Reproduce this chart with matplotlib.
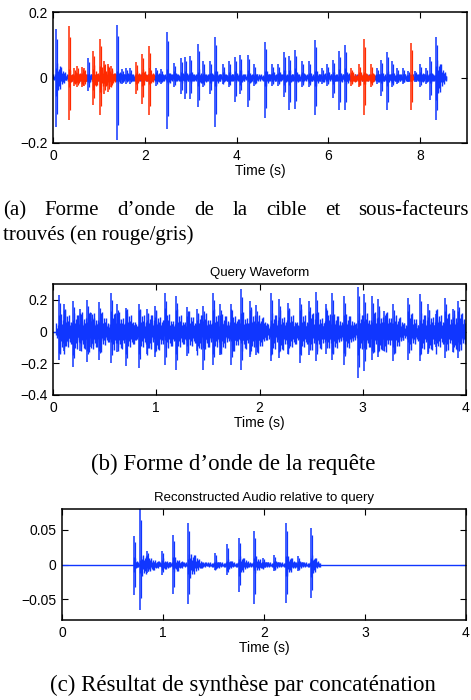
import matplotlib
matplotlib.use("Agg")
import matplotlib.pyplot as plt
import numpy as np

# ---------------- data ----------------
# Panel (a): target waveform, events: time, top, bottom, tail length, tail amplitude
a_times = [0.07, 0.35, 0.45, 0.53, 0.63, 0.68, 0.77, 0.87, 1.02, 1.12, 1.20, 1.27,
           1.40, 1.50, 1.58, 1.68, 1.81, 1.93, 2.09, 2.12, 2.24, 2.35, 2.48, 2.64,
           2.78, 2.88, 2.98, 3.15, 3.27, 3.42, 3.54, 3.71, 3.83, 3.96, 4.07, 4.24,
           4.37, 4.62, 4.78, 4.90, 5.03, 5.15, 5.28, 5.42, 5.58, 5.70, 5.85, 5.98,
           6.11, 6.24, 6.36, 6.50, 6.66, 6.78, 6.93, 7.05, 7.14, 7.27, 7.38, 7.50,
           7.62, 7.74, 7.81, 7.88, 8.00, 8.12, 8.22, 8.35]
a_tops = [0.147, 0.156, 0.030, 0.035, 0.032, 0.030, 0.060, 0.082, 0.119, 0.050, 0.040, 0.035,
          0.159, 0.025, 0.030, 0.030, 0.046, 0.073, 0.095, 0.030, 0.030, 0.025, 0.140, 0.045,
          0.060, 0.062, 0.066, 0.103, 0.050, 0.050, 0.125, 0.040, 0.050, 0.063, 0.070, 0.070,
          0.040, 0.108, 0.040, 0.040, 0.077, 0.067, 0.083, 0.050, 0.050, 0.115, 0.030, 0.040,
          0.054, 0.080, 0.098, 0.030, 0.040, 0.118, 0.040, 0.030, 0.054, 0.078, 0.050, 0.030,
          0.030, 0.020, 0.105, 0.020, 0.040, 0.030, 0.064, 0.123]
a_bottoms = [-0.150, -0.131, -0.025, -0.030, -0.030, -0.025, -0.040, -0.085, -0.116, -0.050, -0.045, -0.030,
             -0.192, -0.020, -0.020, -0.020, -0.050, -0.080, -0.116, -0.020, -0.025, -0.020, -0.156, -0.030,
             -0.050, -0.065, -0.065, -0.090, -0.030, -0.050, -0.150, -0.020, -0.030, -0.075, -0.050, -0.090,
             -0.025, -0.125, -0.025, -0.025, -0.060, -0.100, -0.097, -0.030, -0.030, -0.116, -0.020, -0.025,
             -0.062, -0.100, -0.100, -0.025, -0.030, -0.113, -0.030, -0.020, -0.055, -0.100, -0.030, -0.020,
             -0.020, -0.015, -0.100, -0.015, -0.030, -0.020, -0.070, -0.131]
a_tail_len = [0.22, 0.06, 0.08, 0.08, 0.06, 0.06, 0.07, 0.12, 0.15, 0.10, 0.08, 0.10,
              0.10, 0.05, 0.06, 0.06, 0.08, 0.10, 0.03, 0.08, 0.08, 0.06, 0.08, 0.08,
              0.08, 0.08, 0.08, 0.10, 0.08, 0.08, 0.10, 0.08, 0.08, 0.08, 0.08, 0.08,
              0.08, 0.10, 0.08, 0.08, 0.08, 0.08, 0.08, 0.08, 0.08, 0.10, 0.08, 0.08,
              0.08, 0.08, 0.10, 0.10, 0.08, 0.08, 0.06, 0.06, 0.08, 0.08, 0.08, 0.08,
              0.08, 0.04, 0.02, 0.08, 0.08, 0.08, 0.08, 0.21]
a_tail_amp = [0.055, 0.030, 0.022, 0.022, 0.022, 0.022, 0.020, 0.045, 0.050, 0.040, 0.035, 0.030,
              0.025, 0.015, 0.015, 0.015, 0.028, 0.038, 0.030, 0.025, 0.020, 0.015, 0.030, 0.020,
              0.020, 0.020, 0.020, 0.030, 0.020, 0.020, 0.030, 0.020, 0.020, 0.020, 0.025, 0.025,
              0.020, 0.030, 0.020, 0.020, 0.025, 0.025, 0.030, 0.020, 0.020, 0.030, 0.015, 0.020,
              0.020, 0.025, 0.030, 0.022, 0.025, 0.022, 0.022, 0.015, 0.020, 0.025, 0.020, 0.015,
              0.015, 0.010, 0.015, 0.015, 0.020, 0.015, 0.020, 0.070]
a_red_start = [0.33, 0.85, 1.78, 6.47, 7.79]
a_red_end = [0.75, 1.37, 2.12, 7.00, 7.84]
a_band = 0.012
a_end = 8.56

# Panel (b): query waveform
b_times = [0.06, 0.11, 0.19, 0.26, 0.33, 0.37, 0.45, 0.56, 0.62, 0.71, 0.83, 0.91,
           0.99, 1.08, 1.19, 1.30, 1.39, 1.45, 1.55, 1.62, 1.72, 1.82, 1.91, 1.97,
           2.11, 2.19, 2.28, 2.39, 2.48, 2.55, 2.64, 2.70, 2.82, 2.95, 3.01, 3.09,
           3.15, 3.21, 3.29, 3.44, 3.55, 3.63, 3.71, 3.80, 3.87, 3.92]
b_tops = [0.229, 0.171, 0.192, 0.140, 0.199, 0.118, 0.186, 0.246, 0.171, 0.146, 0.171, 0.140,
          0.160, 0.241, 0.224, 0.153, 0.140, 0.160, 0.246, 0.171, 0.171, 0.270, 0.192, 0.165,
          0.245, 0.203, 0.182, 0.214, 0.192, 0.250, 0.171, 0.245, 0.224, 0.284, 0.235, 0.224,
          0.203, 0.129, 0.171, 0.214, 0.239, 0.171, 0.108, 0.214, 0.140, 0.192]
b_bottoms = [-0.178, -0.120, -0.224, -0.120, -0.189, -0.100, -0.178, -0.200, -0.130, -0.220, -0.230, -0.140,
             -0.160, -0.210, -0.240, -0.157, -0.120, -0.240, -0.210, -0.150, -0.210, -0.240, -0.160, -0.150,
             -0.188, -0.167, -0.140, -0.198, -0.150, -0.188, -0.140, -0.177, -0.209, -0.294, -0.251, -0.180,
             -0.160, -0.120, -0.188, -0.177, -0.188, -0.140, -0.100, -0.167, -0.130, -0.167]
b_tail_len = 0.11
b_tail_amp = 0.15
b_band = 0.055
b_start, b_end = 0.03, 3.99

# Panel (c): reconstructed audio
c_times = [0.716, 0.772, 0.84, 0.99, 1.10, 1.25, 1.51, 1.63, 1.755, 1.90, 1.99, 2.10, 2.22, 2.34, 2.47]
c_tops = [0.041, 0.080, 0.020, 0.020, 0.043, 0.060, 0.017, 0.029, 0.038, 0.048, 0.010, 0.014, 0.060, 0.012, 0.053]
c_bottoms = [-0.044, -0.065, -0.012, -0.015, -0.043, -0.057, -0.008, -0.015, -0.040, -0.057, -0.005, -0.010, -0.056, -0.010, -0.049]
c_tail_len = [0.04, 0.20, 0.05, 0.08, 0.10, 0.15, 0.05, 0.06, 0.10, 0.10, 0.05, 0.05, 0.10, 0.05, 0.08]
c_tail_amp = [0.012, 0.018, 0.010, 0.010, 0.014, 0.022, 0.008, 0.010, 0.016, 0.014, 0.006, 0.008, 0.018, 0.008, 0.018]
c_band = 0.004
c_start, c_end = 0.71, 2.55

# ---------------- style ----------------
BLUE = "#1036ff"
RED = "#ff2a00"
TEXTURE = (1.0, 0.45, 0.8, 0.6, 0.95, 0.35, 0.7, 0.5, 0.85, 0.4, 0.65, 0.9)
plt.rcParams["font.family"] = ["Liberation Sans", "DejaVu Sans"]
plt.rcParams["font.size"] = 10
SERIF = ["Liberation Serif", "DejaVu Serif"]

fig = plt.figure(figsize=(4.71, 7.0), dpi=100)
W, H = 471.0, 700.0


def px_axes(l, t, r, b):
    return fig.add_axes([l / W, 1 - b / H, (r - l) / W, (b - t) / H])


def style(ax):
    ax.tick_params(direction="in", top=True, right=True, length=4, width=0.8,
                   labelsize=10, pad=4)
    for s in ax.spines.values():
        s.set_linewidth(1.1)


def sticks(ax, t0, t1, a0, a1, step, color, phase=0, lw=1.0):
    """Textured vertical strokes whose envelope goes linearly from a0 to a1."""
    n = max(int(round((t1 - t0) / step)), 1)
    xs, lo, hi = [], [], []
    for k in range(n + 1):
        x = t0 + k * step
        env = a0 + (a1 - a0) * k / n
        xs.append(x)
        hi.append(env * TEXTURE[(k + phase) % len(TEXTURE)])
        lo.append(-env * TEXTURE[(k + phase + 5) % len(TEXTURE)])
    ax.vlines(xs, lo, hi, color=color, lw=lw)


def draw_event(ax, t, top, bot, tl, ta, bg, color, step, lw=1.1):
    sticks(ax, t, t + tl, ta, bg, step, color, phase=int(t * 100))
    ax.vlines(t, bot, top, color=color, lw=lw)
    ax.vlines(t + step, bot * 0.75, top * 0.8, color=color, lw=lw * 0.8)


def in_red(t):
    return any(s <= t <= e for s, e in zip(a_red_start, a_red_end))


# ---- (a)
ax1 = px_axes(53, 12, 467, 143)
step_a = 9.02 / 414
sticks(ax1, 0.0, a_end, a_band, a_band, step_a, BLUE)
for s, e in zip(a_red_start, a_red_end):
    sticks(ax1, s, e, a_band, a_band, step_a, RED, phase=3)
for t, tp, bt, tl, ta in zip(a_times, a_tops, a_bottoms, a_tail_len, a_tail_amp):
    draw_event(ax1, t, tp, bt, tl, ta, a_band, RED if in_red(t) else BLUE, step_a)
ax1.set_xlim(0, 9.02)
ax1.set_ylim(-0.2, 0.2)
ax1.set_xticks([0, 2, 4, 6, 8])
ax1.set_yticks([-0.2, 0, 0.2])
ax1.set_yticklabels(["\u22120.2", "0", "0.2"])
ax1.set_xlabel("Time (s)", labelpad=1)
style(ax1)

# ---- (b)
ax2 = px_axes(53, 284, 466, 395)
step_b = 4.0 / 413
ax2.plot([0, b_start], [0, 0], color=BLUE, lw=1)
sticks(ax2, b_start, b_end, b_band, b_band, step_b, BLUE)
for t, tp, bt in zip(b_times, b_tops, b_bottoms):
    draw_event(ax2, t, tp, bt, b_tail_len, b_tail_amp, b_band, BLUE, step_b)
ax2.set_xlim(0, 4)
ax2.set_ylim(-0.4, 0.3)
ax2.set_xticks([0, 1, 2, 3, 4])
ax2.set_yticks([-0.4, -0.2, 0, 0.2])
ax2.set_yticklabels(["\u22120.4", "\u22120.2", "0", "0.2"])
ax2.set_xlabel("Time (s)", labelpad=1)
ax2.set_title("Query Waveform", fontsize=9.5, pad=6)
style(ax2)

# ---- (c)
ax3 = px_axes(62, 509, 466, 620)
step_c = 4.0 / 404
ax3.plot([0, 4], [0, 0], color=BLUE, lw=1)
sticks(ax3, c_start, c_end, c_band, c_band, step_c, BLUE)
for t, tp, bt, tl, ta in zip(c_times, c_tops, c_bottoms, c_tail_len, c_tail_amp):
    draw_event(ax3, t, tp, bt, tl, ta, c_band, BLUE, step_c)
ax3.set_xlim(0, 4)
ax3.set_ylim(-0.08, 0.08)
ax3.set_xticks([0, 1, 2, 3, 4])
ax3.set_yticks([-0.05, 0, 0.05])
ax3.set_yticklabels(["\u22120.05", "0", "0.05"])
ax3.set_xlabel("Time (s)", labelpad=1)
ax3.set_title("Reconstructed Audio relative to query", fontsize=9.5, pad=6)
style(ax3)

# ---- captions (serif, first line justified)
CAP = 15
CAP_BC = 16.5
words = ["(a)", "Forme", "d\u2019onde", "de", "la", "cible", "et", "sous-facteurs"]
renderer = fig.canvas.get_renderer()
texts = [fig.text(0, 1 - 215 / H, w, family=SERIF, fontsize=CAP, ha="left", va="baseline")
         for w in words]
widths = [t.get_window_extent(renderer).width for t in texts]
x0, x1 = 3.0, 469.0
gap = (x1 - x0 - sum(widths)) / (len(words) - 1)
x = x0
for t, w in zip(texts, widths):
    t.set_x(x / W)
    x += w + gap
fig.text(3 / W, 1 - 240 / H, "trouv\u00e9s (en rouge/gris)", family=SERIF, fontsize=CAP,
         ha="left", va="baseline")
fig.text(233 / W, 1 - 470 / H, "(b) Forme d\u2019onde de la requ\u00eate", family=SERIF,
         fontsize=CAP_BC, ha="center", va="baseline")
fig.text(243 / W, 1 - 691 / H, "(c) R\u00e9sultat de synth\u00e8se par concat\u00e9nation",
         family=SERIF, fontsize=CAP_BC, ha="center", va="baseline")

fig.savefig("out.png", dpi=100)
